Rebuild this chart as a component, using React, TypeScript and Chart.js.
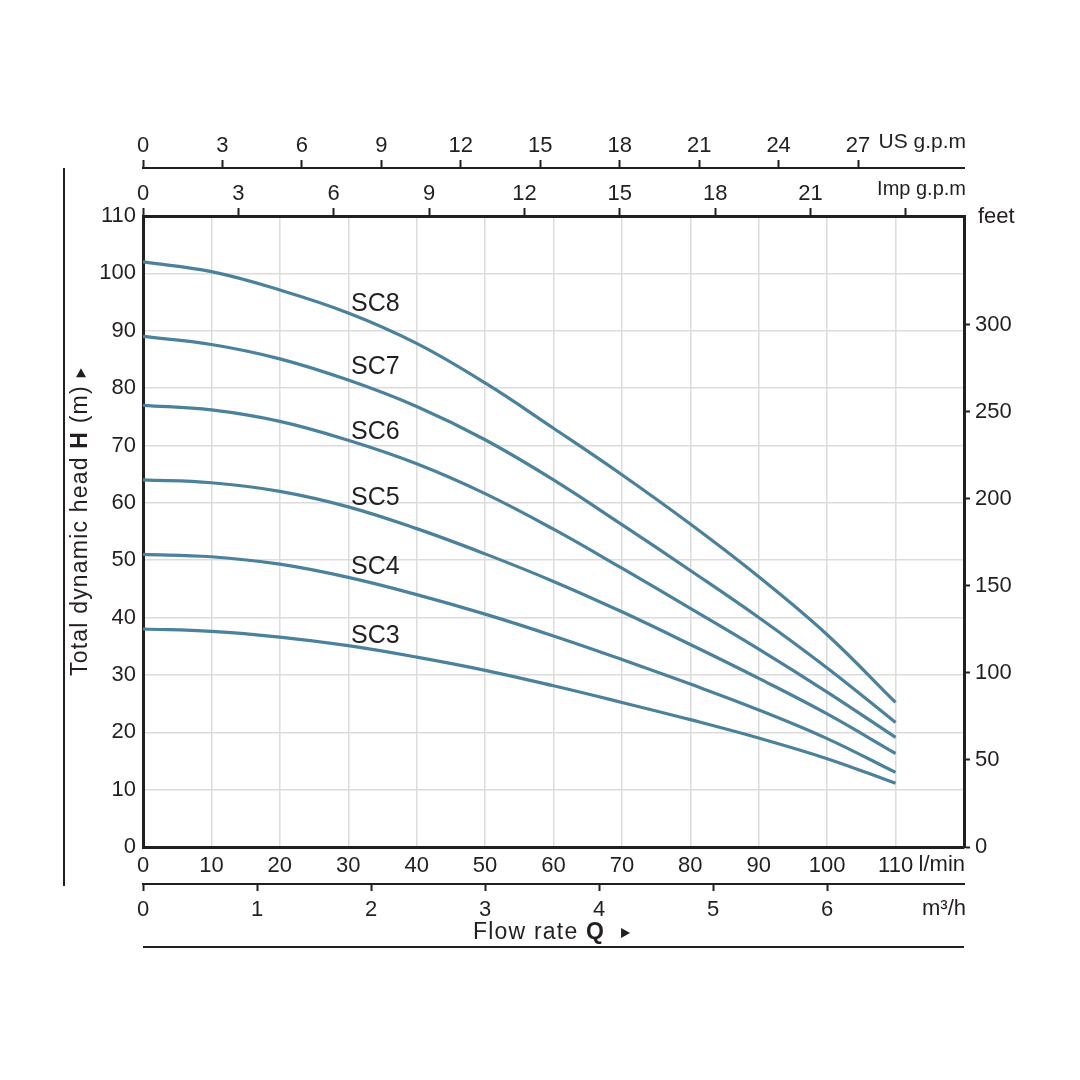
import React, { useEffect, useRef } from 'react';
import { Chart, registerables } from 'chart.js';

Chart.register(...registerables);

// Flow rate (l/min) sample points
const flowLpm = [0, 10, 20, 30, 40, 50, 60, 70, 80, 90, 100, 110];
// Head (m) for each pump model
const sc8 = [102, 100.3, 97.1, 93.1, 87.8, 80.9, 73.0, 64.9, 56.3, 47.1, 37.0, 25.2];
const sc7 = [89, 87.6, 85.1, 81.4, 76.8, 71.0, 64.0, 56.2, 48.2, 40.0, 31.2, 21.7];
const sc6 = [77, 76.2, 74.2, 70.9, 66.8, 61.6, 55.4, 48.6, 41.6, 34.5, 27.0, 19.1];
const sc5 = [64, 63.5, 62.0, 59.3, 55.5, 51.1, 46.3, 41.0, 35.3, 29.4, 23.2, 16.3];
const sc4 = [51, 50.6, 49.3, 47.0, 44.0, 40.6, 36.8, 32.7, 28.4, 23.9, 18.9, 13.0];
const sc3 = [38, 37.6, 36.6, 35.1, 33.1, 30.8, 28.1, 25.2, 22.2, 19.0, 15.4, 11.1];

const seriesNames = ['SC3', 'SC4', 'SC5', 'SC6', 'SC7', 'SC8'];
const seriesValues = [sc3, sc4, sc5, sc6, sc7, sc8];
// label anchor positions (l/min, m)
const labelFlow = 30.4;
const labelHead = [36.8, 48.8, 60.8, 72.3, 83.7, 94.7];

// axis ranges
const flowMax = 120; // l/min
const headMax = 110; // m
const m3hMax = 7.2; // 120 l/min in m3/h
const feetMax = 362.6;
const impMax = 25.83;
const usMax = 31.0;

const INK = '#231f20';
const GRID = '#dcdcdc';
const CURVE = '#4a819b';
const FONT = "'Liberation Sans', Arial, Helvetica, sans-serif";

const tickFont = { family: FONT, size: 22 };

const extrasPlugin = {
  id: 'extras',
  afterDraw(chart: any) {
    const ctx = chart.ctx as CanvasRenderingContext2D;
    const { left, right, top } = chart.chartArea;
    const xs = chart.scales.x;
    const ys = chart.scales.y;
    ctx.save();
    ctx.fillStyle = INK;
    ctx.strokeStyle = INK;

    // series labels
    ctx.font = `25px ${FONT}`;
    ctx.textAlign = 'left';
    ctx.textBaseline = 'middle';
    seriesNames.forEach((n, i) => {
      ctx.fillText(n, xs.getPixelForValue(labelFlow), ys.getPixelForValue(labelHead[i]));
    });

    // unit labels
    ctx.font = `21px ${FONT}`;
    ctx.textAlign = 'right';
    ctx.fillText('US g.p.m', right + 2, 142);
    ctx.font = `20px ${FONT}`;
    ctx.fillText('Imp g.p.m', right + 2, 189);
    ctx.font = `22px ${FONT}`;
    ctx.textAlign = 'left';
    ctx.fillText('feet', right + 14, top + 1);
    ctx.textAlign = 'right';
    ctx.fillText('l/min', right + 1, 865);
    ctx.fillText('m³/h', right + 2, 909);

    // frame lines
    ctx.lineWidth = 2;
    ctx.beginPath();
    ctx.moveTo(64, 168);
    ctx.lineTo(64, 886);
    ctx.stroke();
    ctx.beginPath();
    ctx.moveTo(left, 947);
    ctx.lineTo(right, 947);
    ctx.stroke();

    // x title: "Flow rate Q ▸"
    (ctx as any).letterSpacing = '1.2px';
    ctx.textAlign = 'left';
    ctx.textBaseline = 'middle';
    let x = 473;
    const ty = 933;
    ctx.font = `23px ${FONT}`;
    ctx.fillText('Flow rate ', x, ty);
    x += ctx.measureText('Flow rate ').width;
    ctx.font = `bold 23px ${FONT}`;
    ctx.fillText('Q', x, ty);
    x += ctx.measureText('Q').width;
    ctx.beginPath();
    ctx.moveTo(x + 16, ty - 5);
    ctx.lineTo(x + 25, ty);
    ctx.lineTo(x + 16, ty + 5);
    ctx.closePath();
    ctx.fill();

    // y title rotated
    ctx.save();
    ctx.translate(81, 676);
    ctx.rotate(-Math.PI / 2);
    let p = 0;
    ctx.font = `23px ${FONT}`;
    ctx.fillText('Total dynamic head ', p, 0);
    p += ctx.measureText('Total dynamic head ').width;
    ctx.font = `bold 23px ${FONT}`;
    ctx.fillText('H', p, 0);
    p += ctx.measureText('H').width;
    ctx.font = `23px ${FONT}`;
    ctx.fillText(' (m)', p, 0);
    p += ctx.measureText(' (m)').width;
    ctx.beginPath();
    ctx.moveTo(p + 8, -5);
    ctx.lineTo(p + 17, 0);
    ctx.lineTo(p + 8, 5);
    ctx.closePath();
    ctx.fill();
    ctx.restore();

    ctx.restore();
  },
};

export default function App() {
  const ref = useRef<HTMLCanvasElement | null>(null);

  useEffect(() => {
    if (!ref.current) return;
    const datasets = seriesNames.map((name, i) => ({
      label: name,
      data: flowLpm.map((q, j) => ({ x: q, y: seriesValues[i][j] })),
      borderColor: CURVE,
      borderWidth: 3.2,
      pointRadius: 0,
      fill: false,
      tension: 0.4,
      xAxisID: 'x',
      yAxisID: 'y',
    }));

    const chart = new Chart(ref.current, {
      type: 'line',
      data: { datasets },
      plugins: [extrasPlugin],
      options: {
        animation: false,
        responsive: false,
        devicePixelRatio: 1,
        layout: { padding: 0 },
        plugins: { legend: { display: false }, tooltip: { enabled: false } },
        scales: {
          x: {
            type: 'linear',
            position: 'bottom',
            weight: 0,
            min: 0,
            max: flowMax,
            afterFit: (s: any) => { s.height = 37; },
            grid: { color: GRID, lineWidth: 1.5, drawTicks: false },
            border: { color: INK, width: 3 },
            ticks: {
              stepSize: 10,
              includeBounds: false,
              padding: 6,
              color: INK,
              font: tickFont,
              maxRotation: 0,
              autoSkip: false,
              callback: (v: any) => (v > 110 ? null : String(v)),
            },
          },
          m3h: {
            type: 'linear',
            position: 'bottom',
            weight: 1,
            min: 0,
            max: m3hMax,
            afterFit: (s: any) => { s.height = 196; },
            grid: { drawOnChartArea: false, drawTicks: true, tickLength: 7, tickColor: INK, tickWidth: 2, color: INK },
            border: { color: INK, width: 2 },
            ticks: {
              stepSize: 1,
              includeBounds: false,
              padding: 6,
              color: INK,
              font: tickFont,
              maxRotation: 0,
              autoSkip: false,
              callback: (v: any) => (v > 6 ? null : String(v)),
            },
          },
          y: {
            type: 'linear',
            position: 'left',
            min: 0,
            max: headMax,
            afterFit: (s: any) => { s.width = 143; },
            grid: { color: GRID, lineWidth: 1.5, drawTicks: false },
            border: { color: INK, width: 3 },
            ticks: {
              stepSize: 10,
              includeBounds: false,
              padding: 7,
              color: INK,
              font: tickFont,
              autoSkip: false,
            },
          },
          feet: {
            type: 'linear',
            position: 'right',
            min: 0,
            max: feetMax,
            afterFit: (s: any) => { s.width = 116; },
            grid: { drawOnChartArea: false, drawTicks: true, tickLength: 6, tickColor: INK, tickWidth: 2, color: INK },
            border: { color: INK, width: 3 },
            ticks: {
              stepSize: 50,
              includeBounds: false,
              padding: 5,
              color: INK,
              font: tickFont,
              autoSkip: false,
              callback: (v: any) => (v > 300 ? null : String(v)),
            },
          },
          imp: {
            type: 'linear',
            position: 'top',
            weight: 0,
            min: 0,
            max: impMax,
            afterFit: (s: any) => { s.height = 48; },
            grid: { drawOnChartArea: false, drawTicks: true, tickLength: 8, tickColor: INK, tickWidth: 2, color: INK },
            border: { color: INK, width: 3 },
            ticks: {
              stepSize: 3,
              includeBounds: false,
              padding: 1,
              color: INK,
              font: tickFont,
              maxRotation: 0,
              autoSkip: false,
              callback: (v: any) => (v > 24 ? null : v === 24 ? '' : String(v)),
            },
          },
          us: {
            type: 'linear',
            position: 'top',
            weight: 1,
            min: 0,
            max: usMax,
            afterFit: (s: any) => { s.height = 168; },
            grid: { drawOnChartArea: false, drawTicks: true, tickLength: 8, tickColor: INK, tickWidth: 2, color: INK },
            border: { color: INK, width: 2 },
            ticks: {
              stepSize: 3,
              includeBounds: false,
              padding: 1,
              color: INK,
              font: tickFont,
              maxRotation: 0,
              autoSkip: false,
              callback: (v: any) => (v > 27 ? null : String(v)),
            },
          },
        },
      },
    });
    return () => chart.destroy();
  }, []);

  return (
    <div style={{ position: 'absolute', left: 0, top: 0, width: 1080, height: 1080, background: '#fff' }}>
      <canvas ref={ref} width={1080} height={1080} style={{ width: 1080, height: 1080, display: 'block' }} />
    </div>
  );
}
